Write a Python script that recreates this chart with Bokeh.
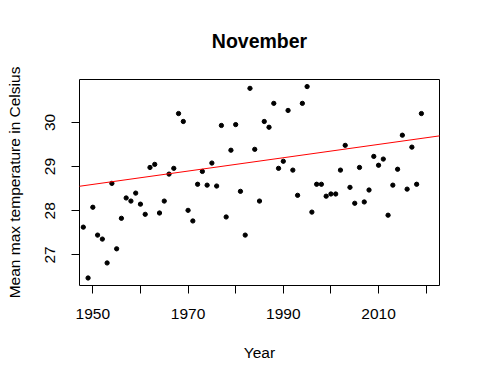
from bokeh.plotting import figure
from bokeh.models import FixedTicker, Slope, Range1d
from bokeh.embed import file_html
from bokeh.resources import INLINE

years = list(range(1948, 2020))
temps = [
    27.63, 26.48, 28.08, 27.45, 27.36, 26.82, 28.62, 27.14, 27.83, 28.29,
    28.22, 28.40, 28.15, 27.92, 28.98, 29.05, 27.95, 28.22, 28.83, 28.96,
    30.20, 30.02, 28.01, 27.77, 28.60, 28.89, 28.58, 29.08, 28.56, 29.93,
    27.86, 29.37, 29.95, 28.44, 27.45, 30.77, 29.39, 28.22, 30.02, 29.89,
    30.43, 28.96, 29.12, 30.27, 28.92, 28.35, 30.43, 30.81, 27.97, 28.60,
    28.60, 28.33, 28.38, 28.38, 28.92, 29.48, 28.53, 28.17, 28.98, 28.20,
    28.47, 29.23, 29.03, 29.17, 27.90, 28.58, 28.94, 29.71, 28.49, 29.44,
    28.60, 30.20,
]
# trend line as drawn in the reference (abline)
trend_slope = 0.01508
trend_intercept = -0.809

x_ticks = [1950, 1960, 1970, 1980, 1990, 2000, 2010, 2020]
x_tick_labels = {1960: "", 1980: "", 2000: "", 2020: ""}
y_ticks = [27, 28, 29, 30]

FONT = "Liberation Sans"

p = figure(width=472, height=376, output_backend="svg", toolbar_location=None,
           x_range=Range1d(1947.2, 2022.8), y_range=Range1d(26.31, 30.97),
           min_border_left=79, min_border_right=33, min_border_top=79,
           min_border_bottom=91, title="November")

p.title.align = "center"
p.title.text_font = FONT
p.title.text_font_size = "19.5px"
p.title.text_font_style = "bold"
p.title.text_color = "black"
p.title.standoff = 55

p.grid.visible = False
p.outline_line_color = "black"
p.outline_line_width = 1
p.background_fill_color = "white"
p.border_fill_color = "white"

for ax in (p.xaxis[0], p.yaxis[0]):
    ax.axis_line_color = None
    ax.major_tick_line_color = "black"
    ax.major_tick_out = 8
    ax.major_tick_in = 0
    ax.minor_tick_line_color = None
    ax.major_label_text_font = FONT
    ax.major_label_text_font_size = "15.5px"
    ax.major_label_text_color = "black"
    ax.axis_label_text_font = FONT
    ax.axis_label_text_font_size = "15.5px"
    ax.axis_label_text_font_style = "normal"
    ax.axis_label_text_color = "black"

p.xaxis.ticker = FixedTicker(ticks=x_ticks)
p.xaxis.major_label_overrides = x_tick_labels
p.xaxis.axis_label = "Year"
p.xaxis.major_label_standoff = 15
p.xaxis.axis_label_standoff = 22

p.yaxis.ticker = FixedTicker(ticks=y_ticks)
p.yaxis.major_label_orientation = "vertical"
p.yaxis.axis_label = "Mean max temperature in Celsius"
p.yaxis.major_label_standoff = 16
p.yaxis.axis_label_standoff = 20

p.scatter(years, temps, size=4.3, color="black", marker="circle")

p.add_layout(Slope(gradient=trend_slope, y_intercept=trend_intercept,
                   line_color="red", line_width=1))

open("out.html", "w").write(file_html(p, INLINE))
